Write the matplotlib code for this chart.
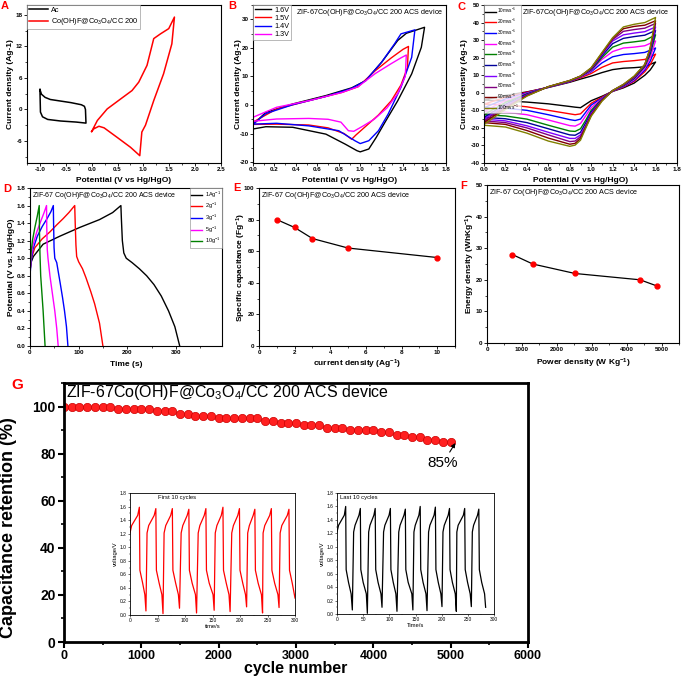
import matplotlib
matplotlib.use('Agg')
import matplotlib.pyplot as plt
from matplotlib.ticker import AutoMinorLocator

plt.rcParams['font.family'] = ['Liberation Sans', 'DejaVu Sans']
plt.rcParams['mathtext.fontset'] = 'custom'
plt.rcParams['mathtext.rm'] = 'Liberation Sans'
plt.rcParams['mathtext.it'] = 'Liberation Sans:italic'
plt.rcParams['mathtext.bf'] = 'Liberation Sans:bold'

# ---------------- data ----------------
# A: CV of Ac and Co(OH)F electrode
ac_x = [-1.0, -0.97, -0.9, -0.8, -0.6, -0.4, -0.2, -0.14, -0.12, -0.11, -0.3, -0.6, -0.85, -0.95, -0.99, -1.0]
ac_y = [3.8, 2.9, 2.3, 1.9, 1.6, 1.3, 0.9, 0.6, 0.0, -2.6, -2.4, -2.2, -1.9, -1.4, -0.5, 3.8]
cf_x = [0.0, 0.11, 0.30, 0.56, 0.78, 0.91, 1.07, 1.20, 1.33, 1.49, 1.60, 1.55, 1.39, 1.20, 1.04, 0.97, 0.93, 0.75, 0.49, 0.24, 0.14, 0.04, 0.0]
cf_y = [-4.2, -2.1, 0.1, 2.0, 3.6, 5.2, 8.4, 13.5, 14.4, 15.4, 17.6, 12.5, 6.8, 1.7, -3.0, -4.3, -8.8, -7.2, -5.3, -3.5, -3.2, -3.7, -4.2]

# B: device CV at different windows
b16_x = [0, 0.12, 0.37, 0.68, 0.92, 1.05, 1.20, 1.35, 1.43, 1.60, 1.57, 1.48, 1.35, 1.23, 1.15, 1.08, 1.00, 0.97, 0.86, 0.68, 0.37, 0.12, 0]
b16_y = [-6.8, -2.6, 0.35, 3.3, 6.0, 8.5, 15.0, 22.6, 25.1, 27.2, 20.2, 10.9, 1.5, -6.1, -11.3, -15.4, -16.4, -16.0, -13.7, -10.2, -7.8, -7.6, -8.4]
b15_x = [0, 0.22, 0.52, 0.83, 0.98, 1.14, 1.29, 1.40, 1.45, 1.44, 1.38, 1.29, 1.17, 1.05, 0.96, 0.92, 0.85, 0.7, 0.52, 0.22, 0]
b15_y = [-6.0, -1.4, 1.5, 4.4, 6.4, 12.0, 16.5, 19.5, 20.5, 13.0, 7.0, 1.5, -3.5, -7.5, -10.5, -12.0, -10.0, -8.0, -7.0, -6.7, -6.8]
b14_x = [0, 0.12, 0.37, 0.68, 0.92, 1.05, 1.20, 1.32, 1.38, 1.51, 1.48, 1.38, 1.26, 1.17, 1.08, 1.00, 0.95, 0.80, 0.52, 0.22, 0]
b14_y = [-6.7, -3.0, 0.1, 3.0, 5.8, 8.5, 15.0, 21.4, 24.9, 26.3, 16.7, 6.2, -3.2, -9.0, -12.5, -13.5, -12.5, -9.0, -7.3, -6.4, -6.7]
b13_x = [0, 0.22, 0.52, 0.83, 0.98, 1.14, 1.29, 1.38, 1.43, 1.42, 1.35, 1.25, 1.13, 1.02, 0.94, 0.89, 0.82, 0.7, 0.52, 0.22, 0]
b13_y = [-4.3, -0.8, 1.5, 4.4, 6.4, 11.0, 14.5, 16.5, 17.5, 10.0, 4.0, -1.0, -5.0, -7.5, -9.2, -9.0, -6.0, -5.0, -4.7, -4.9, -5.7]

# C: device CV at different scan rates
c_rates = ['10', '20', '30', '40', '50', '60', '70', '80', '90', '100']
c_colors = ['black', '#ff0000', '#0000ff', '#ff00ff', '#008000', '#000099', '#8000ff', '#800080', '#800000', '#808000']
c_up_x = [0, 0.2, 0.4, 0.6, 0.8, 0.9, 1.0, 1.1, 1.2, 1.3, 1.4, 1.5, 1.6]
c_ret_x = [1.6, 1.55, 1.5, 1.4, 1.3, 1.2, 1.1, 1.0, 0.95, 0.9, 0.85, 0.8, 0.6, 0.4, 0.2, 0.0]
c_up = [
    [-4.0, -1.5, 0.5, 3.0, 6.0, 7.8, 9.5, 11.5, 13.2, 14.0, 14.3, 14.8, 17.5],
    [-6.5, -2.5, 0.3, 3.2, 6.3, 8.5, 11.0, 14.5, 17.0, 17.8, 18.3, 19.0, 22.0],
    [-8.5, -3.5, 0.0, 3.2, 6.4, 9.0, 12.0, 17.0, 20.5, 21.8, 22.3, 23.0, 25.5],
    [-10.5, -4.5, -0.3, 3.2, 6.5, 9.0, 12.5, 19.0, 23.5, 25.5, 26.0, 26.8, 29.5],
    [-12.5, -5.5, -0.6, 3.3, 6.6, 9.2, 13.0, 20.0, 26.0, 28.3, 29.0, 29.8, 33.0],
    [-14.0, -6.5, -0.9, 3.3, 6.7, 9.3, 13.3, 21.0, 28.0, 31.0, 32.0, 32.8, 35.5],
    [-15.0, -7.3, -1.2, 3.4, 6.8, 9.4, 13.6, 21.8, 29.5, 33.0, 34.0, 34.8, 37.5],
    [-16.0, -8.0, -1.5, 3.4, 6.9, 9.4, 13.9, 22.3, 30.3, 35.0, 36.0, 36.8, 39.5],
    [-17.0, -8.8, -1.7, 3.5, 7.0, 9.5, 14.1, 22.6, 31.0, 36.5, 37.8, 38.5, 41.0],
    [-18.0, -9.5, -1.9, 3.5, 7.0, 9.5, 14.3, 22.9, 31.4, 37.5, 39.0, 40.0, 42.9],
]
c_ret = [
    [17.5, 13.0, 10.0, 5.5, 2.8, 0.8, -2.0, -4.5, -6.5, -8.5, -8.2, -7.8, -6.3, -5.3, -4.6, -4.2],
    [22.0, 16.0, 12.0, 6.5, 3.2, 0.9, -2.5, -6.0, -9.0, -12.0, -12.5, -12.0, -10.0, -8.0, -6.8, -6.5],
    [25.5, 18.0, 13.0, 7.0, 3.5, 1.0, -3.0, -7.0, -11.0, -15.0, -15.8, -15.3, -12.5, -10.0, -8.8, -8.5],
    [29.5, 20.0, 14.0, 7.5, 3.8, 1.0, -3.3, -8.5, -13.0, -17.5, -19.0, -18.7, -15.5, -12.5, -11.0, -10.5],
    [33.0, 22.0, 15.0, 8.0, 4.0, 1.1, -3.6, -10.0, -15.5, -20.5, -22.0, -21.8, -18.5, -15.0, -13.2, -12.5],
    [35.5, 23.0, 15.5, 8.4, 4.2, 1.1, -3.9, -11.0, -17.0, -22.5, -24.2, -24.0, -20.5, -17.0, -14.8, -14.0],
    [37.5, 24.0, 16.0, 8.7, 4.4, 1.2, -4.1, -11.8, -18.5, -24.0, -26.0, -26.0, -22.5, -18.8, -16.0, -15.0],
    [39.5, 24.8, 16.0, 9.0, 4.6, 1.2, -4.3, -12.4, -19.0, -25.0, -27.5, -27.8, -24.0, -20.0, -17.0, -16.0],
    [41.0, 25.3, 16.1, 9.3, 4.7, 1.3, -4.5, -12.9, -19.5, -26.0, -28.8, -29.3, -25.8, -21.5, -18.0, -17.0],
    [42.9, 25.7, 16.2, 9.5, 4.8, 1.3, -4.8, -13.3, -20.0, -27.0, -29.8, -30.5, -27.5, -23.0, -19.5, -18.5],
]

# D: GCD curves
d1_t = [0, 2, 7, 27, 61, 102, 143, 170, 187, 188, 190, 193, 198, 210, 225, 240, 255, 270, 285, 298, 308]
d1_v = [0.85, 0.95, 1.02, 1.16, 1.25, 1.35, 1.44, 1.52, 1.60, 1.45, 1.20, 1.06, 1.00, 0.95, 0.88, 0.80, 0.70, 0.57, 0.40, 0.22, 0.0]
d2_t = [0, 3, 10, 25, 41, 55, 68, 80, 92, 93, 94.5, 96, 100, 108, 115, 125, 133, 143, 150]
d2_v = [0.85, 1.0, 1.12, 1.22, 1.30, 1.38, 1.45, 1.52, 1.60, 1.40, 1.15, 1.02, 0.96, 0.88, 0.78, 0.62, 0.48, 0.26, 0.0]
d3_t = [0, 2, 6, 15, 25, 35, 43, 48, 48.5, 49.5, 51, 55, 58, 62, 67, 71, 75, 78]
d3_v = [0.8, 0.95, 1.10, 1.25, 1.36, 1.45, 1.53, 1.60, 1.40, 1.12, 1.00, 0.95, 0.85, 0.72, 0.55, 0.40, 0.22, 0.0]
d5_t = [0, 2, 6, 14, 22, 29, 34, 34.5, 35.5, 37, 39, 41, 46, 51, 55, 58]
d5_v = [0.85, 1.0, 1.15, 1.30, 1.42, 1.52, 1.60, 1.35, 1.10, 1.00, 0.90, 0.80, 0.60, 0.40, 0.20, 0.0]
d10_t = [0, 2, 5, 10, 15, 19, 19.5, 20.5, 22, 24.5, 27, 29, 31]
d10_v = [0.85, 1.05, 1.20, 1.35, 1.48, 1.60, 1.30, 1.05, 0.80, 0.60, 0.40, 0.20, 0.0]

# E: rate capability
e_current = [1, 2, 3, 5, 10]
e_cap = [80, 75, 68, 62, 56]

# F: Ragone plot
f_power = [725, 1310, 2520, 4384, 4880]
f_energy = [28, 25, 22, 20, 18]

# G: cycling
g_cycles = list(range(0, 5001, 100))
g_retention = [100, 100, 100, 100, 100, 100, 100, 99, 99, 99, 99, 99, 98, 98, 98, 97, 97,
               96, 96, 96, 95, 95, 95, 95, 95, 95, 94, 94, 93, 93, 93, 92, 92, 92, 91, 91,
               91, 90, 90, 90, 90, 89, 89, 88, 88, 87, 87, 86, 86, 85, 85]
ins1_t = [0, 3, 14, 17, 18, 23, 27, 29,
          31, 34, 44, 47, 48, 53, 58, 60,
          62, 65, 74, 77, 78, 83, 88, 90,
          93, 96, 104, 107, 108, 113, 119, 121,
          124, 127, 135, 138, 139, 144, 151, 153,
          155, 158, 166, 169, 170, 175, 180, 182,
          185, 188, 196, 199, 200, 205, 210, 212,
          214, 217, 224, 227, 228, 233, 239, 241,
          242, 245, 254, 257, 258, 263, 269, 271,
          273, 276, 286, 289, 290, 295, 300]
ins1_v = [1.21, 1.32, 1.47, 1.59, 0.66, 0.47, 0.30, 0.06,
          1.21, 1.32, 1.47, 1.57, 0.66, 0.47, 0.30, 0.02,
          1.21, 1.32, 1.47, 1.57, 0.66, 0.47, 0.30, 0.10,
          1.21, 1.32, 1.47, 1.56, 0.66, 0.47, 0.30, 0.03,
          1.21, 1.32, 1.47, 1.57, 0.66, 0.47, 0.30, 0.07,
          1.21, 1.32, 1.47, 1.59, 0.66, 0.47, 0.30, 0.05,
          1.21, 1.32, 1.47, 1.57, 0.66, 0.47, 0.30, 0.12,
          1.21, 1.32, 1.47, 1.56, 0.66, 0.47, 0.30, 0.03,
          1.21, 1.32, 1.47, 1.57, 0.66, 0.47, 0.30, 0.11,
          1.21, 1.32, 1.47, 1.56, 0.66, 0.47, 0.25]
ins2_t = [0, 3, 14, 16.6, 17.5, 22, 27, 29.3,
          31.8, 34.5, 42, 44.6, 45.5, 50, 56, 58,
          60.5, 63, 70.5, 73, 74, 78.5, 84, 86,
          89, 91.5, 99.5, 102, 103, 107.5, 112.5, 114.6,
          118, 120.5, 128, 130.6, 131.5, 136, 143, 145,
          147, 149.5, 156.5, 159, 160, 164.5, 170, 172,
          175, 177.5, 185.5, 188, 189, 193.5, 198.5, 200.6,
          202.5, 205, 212.5, 215, 216, 220.5, 226, 228,
          229, 231.5, 241.5, 244, 245, 249.5, 254.5, 256.7,
          258.6, 261, 268.5, 271, 272, 276.5, 282, 284]
ins2_v = [1.22, 1.32, 1.47, 1.60, 0.66, 0.47, 0.30, 0.06,
          1.22, 1.32, 1.47, 1.57, 0.66, 0.47, 0.30, 0.01,
          1.22, 1.32, 1.47, 1.57, 0.66, 0.47, 0.30, 0.10,
          1.22, 1.32, 1.47, 1.57, 0.66, 0.47, 0.30, 0.04,
          1.22, 1.32, 1.47, 1.56, 0.66, 0.47, 0.30, 0.06,
          1.22, 1.32, 1.47, 1.60, 0.66, 0.47, 0.30, 0.05,
          1.22, 1.32, 1.47, 1.59, 0.66, 0.47, 0.30, 0.11,
          1.22, 1.32, 1.47, 1.57, 0.66, 0.47, 0.30, 0.04,
          1.22, 1.32, 1.47, 1.57, 0.66, 0.47, 0.30, 0.11,
          1.22, 1.32, 1.47, 1.56, 0.66, 0.47, 0.30, 0.10]

DEV = 'ZIF-67Co(OH)F@Co$_3$O$_4$/CC 200 ACS device'
DEV2 = 'ZIF-67 Co(OH)F@Co$_3$O$_4$/CC 200 ACS device'

# ---------------- layout helpers ----------------
W, H = 685, 678
fig = plt.figure(figsize=(6.85, 6.78), dpi=100)


def add_box(x0, y0, x1, y1):
    return fig.add_axes([x0 / W, 1 - y1 / H, (x1 - x0) / W, (y1 - y0) / H])


def small_style(ax, xt, yt, xnd, ynd, xlab, ylab, box, xlab_y, ylab_x, size=4.5, lsize=6):
    # xlab_y / ylab_x are pixel centres of the axis labels
    x0, y0, x1, y1 = box
    for s in ax.spines.values():
        s.set_linewidth(0.8)
    ax.set_xticks(xt)
    ax.set_xticklabels([f'{v:.{xnd}f}' for v in xt], fontsize=size, fontweight='bold')
    ax.set_yticks(yt)
    ax.set_yticklabels([f'{v:.{ynd}f}' for v in yt], fontsize=size, fontweight='bold')
    ax.xaxis.set_minor_locator(AutoMinorLocator(2))
    ax.yaxis.set_minor_locator(AutoMinorLocator(2))
    ax.tick_params(which='major', direction='out', length=2.2, width=0.6, pad=1)
    ax.tick_params(which='minor', direction='out', length=1.2, width=0.5)
    ax.set_xlabel(xlab, fontsize=lsize, fontweight='bold', va='center')
    ax.set_ylabel(ylab, fontsize=lsize, fontweight='bold', va='center')
    ax.xaxis.set_label_coords(0.5, (y1 - xlab_y) / (y1 - y0))
    ax.yaxis.set_label_coords((ylab_x - x0) / (x1 - x0), 0.5)


def small_legend(ax, loc, size, hl, ls):
    leg = ax.legend(loc=loc, fontsize=size, frameon=True, fancybox=False, borderaxespad=0,
                    handlelength=hl, handletextpad=0.4, labelspacing=ls, borderpad=0.25)
    leg.get_frame().set_edgecolor('#999999')
    leg.get_frame().set_linewidth(0.6)


def letter(x, y, s, size=8):
    fig.text(x / W, 1 - y / H, s, color='red', fontweight='bold', fontsize=size,
             ha='left', va='center')


# ---------------- A ----------------
boxA = (27, 5, 221, 163)
ax = add_box(*boxA)
ax.plot(ac_x, ac_y, color='black', lw=1.1, label='Ac')
ax.plot(cf_x, cf_y, color='red', lw=1.1, label='Co(OH)F@Co$_3$O$_4$/CC 200')
ax.set_xlim(-1.25, 2.5)
ax.set_ylim(-10.2, 19.9)
small_style(ax, [-1.0, -0.5, 0.0, 0.5, 1.0, 1.5, 2.0, 2.5], [-6, 0, 6, 12, 18], 1, 0,
            'Potential (V vs Hg/HgO)', 'Current density (Ag-1)', boxA, 181, 11)
small_legend(ax, 'upper left', 5.3, 2.6, 0.3)
letter(1, 6, 'A')

# ---------------- B ----------------
boxB = (253, 5, 446, 163)
ax = add_box(*boxB)
ax.plot(b16_x, b16_y, color='black', lw=1.0, label='1.6V')
ax.plot(b15_x, b15_y, color='red', lw=1.0, label='1.5V')
ax.plot(b14_x, b14_y, color='blue', lw=1.0, label='1.4V')
ax.plot(b13_x, b13_y, color='#ff00ff', lw=1.0, label='1.3V')
ax.set_xlim(0, 1.8)
ax.set_ylim(-20.3, 35)
small_style(ax, [0.0, 0.2, 0.4, 0.6, 0.8, 1.0, 1.2, 1.4, 1.6, 1.8], [-20, -10, 0, 10, 20, 30], 1, 0,
            'Potential (V vs Hg/HgO)', 'Current density (Ag-1)', boxB, 180, 238)
small_legend(ax, 'upper left', 5.2, 2.3, 0.15)
ax.text(0.225, 0.985, DEV, transform=ax.transAxes, fontsize=5.2, va='top', ha='left')
letter(228, 6, 'B')

# ---------------- C ----------------
boxC = (484, 5, 677, 163)
ax = add_box(*boxC)
for rate, col, up, ret in zip(c_rates, c_colors, c_up, c_ret):
    ax.plot(c_up_x + c_ret_x, up + ret, color=col, lw=1.0, label=rate + 'mvs$^{-1}$')
ax.set_xlim(0, 1.8)
ax.set_ylim(-40, 50)
small_style(ax, [0.0, 0.2, 0.4, 0.6, 0.8, 1.0, 1.2, 1.4, 1.6, 1.8], [-40, -30, -20, -10, 0, 10, 20, 30, 40, 50], 1, 0,
            'Potential (V vs Hg/HgO)', 'Current density (Ag-1)', boxC, 180, 464)
small_legend(ax, 'upper left', 3.4, 2.2, 0.3)
ax.text(0.195, 0.985, DEV, transform=ax.transAxes, fontsize=5.2, va='top', ha='left')
letter(457, 7, 'C')

# ---------------- D ----------------
boxD = (30, 188, 222, 346)
ax = add_box(*boxD)
ax.plot(d1_t, d1_v, color='black', lw=1.0, label='1Ag$^{-1}$')
ax.plot(d2_t, d2_v, color='red', lw=1.0, label='2g$^{-1}$')
ax.plot(d3_t, d3_v, color='blue', lw=1.0, label='3g$^{-1}$')
ax.plot(d5_t, d5_v, color='#ff00ff', lw=1.0, label='5g$^{-1}$')
ax.plot(d10_t, d10_v, color='#008000', lw=1.0, label='10g$^{-1}$')
ax.set_xlim(0, 395)
ax.set_ylim(0, 1.8)
small_style(ax, [0, 100, 200, 300], [0.0, 0.2, 0.4, 0.6, 0.8, 1.0, 1.2, 1.4, 1.6, 1.8], 0, 1,
            'Time (s)', 'Potential (V vs. Hg/HgO)', boxD, 364, 12)
small_legend(ax, 'upper right', 4.0, 2.0, 0.25)
ax.text(0.01, 0.985, DEV2, transform=ax.transAxes, fontsize=5.0, va='top', ha='left')
letter(3, 189, 'D')

# ---------------- E ----------------
boxE = (259, 188, 455, 346)
ax = add_box(*boxE)
ax.plot(e_current, e_cap, color='black', lw=0.9, marker='o', markersize=3.5,
        markerfacecolor='red', markeredgecolor='red')
ax.set_xlim(0, 11)
ax.set_ylim(0, 100)
small_style(ax, [0, 2, 4, 6, 8, 10], [0, 20, 40, 60, 80, 100], 0, 0,
            r'current density (Ag$^{\mathbf{-1}}$)', r'Specific capacitance (Fg$^{\mathbf{-1}}$)',
            boxE, 364, 241)
ax.text(0.01, 0.985, DEV2, transform=ax.transAxes, fontsize=5.2, va='top', ha='left')
letter(233, 188, 'E')

# ---------------- F ----------------
boxF = (487, 185, 679, 343)
ax = add_box(*boxF)
ax.plot(f_power, f_energy, color='black', lw=0.9, marker='o', markersize=3.5,
        markerfacecolor='red', markeredgecolor='red')
ax.set_xlim(0, 5500)
ax.set_ylim(0, 50)
small_style(ax, [0, 1000, 2000, 3000, 4000, 5000], [0, 10, 20, 30, 40, 50], 0, 0,
            r'Power density (W Kg$^{\mathbf{-1}}$)', r'Energy density (WhKg$^{\mathbf{-1}}$)',
            boxF, 363, 470)
ax.text(0.01, 0.985, DEV2, transform=ax.transAxes, fontsize=5.2, va='top', ha='left')
letter(460, 186, 'F')

# ---------------- G ----------------
boxG = (64, 383, 528, 642)
ax = add_box(*boxG)
ax.plot(g_cycles, g_retention, linestyle='none', marker='o', markersize=6,
        markerfacecolor='#ff2020', markeredgecolor='#cc0000', markeredgewidth=0.5)
ax.set_xlim(0, 6000)
ax.set_ylim(0, 110)
for s in ax.spines.values():
    s.set_linewidth(2.0)
gx = [0, 1000, 2000, 3000, 4000, 5000, 6000]
gy = [0, 20, 40, 60, 80, 100]
ax.set_xticks(gx)
ax.set_xticklabels([str(v) for v in gx], fontsize=9, fontweight='bold')
ax.set_yticks(gy)
ax.set_yticklabels([str(v) for v in gy], fontsize=10, fontweight='bold')
ax.xaxis.set_minor_locator(AutoMinorLocator(2))
ax.yaxis.set_minor_locator(AutoMinorLocator(2))
ax.tick_params(which='major', direction='out', length=4, width=1.5, pad=2)
ax.tick_params(which='minor', direction='out', length=2.5, width=1.2)
ax.set_xlabel('cycle number', fontsize=11.5, fontweight='bold', va='center')
ax.xaxis.set_label_coords(0.5, (642 - 669) / (642 - 383))
ax.text(0.004, 0.965, 'ZIF-67Co(OH)F@Co$_3$O$_4$/CC 200 ACS device', transform=ax.transAxes,
        fontsize=11.5, va='center', ha='left')
ax.annotate('85%', xy=(5060, 84.5), xytext=(4900, 76), fontsize=11, ha='center', va='center',
            arrowprops=dict(arrowstyle='-|>', color='black', lw=0.8, mutation_scale=6,
                            shrinkA=1, shrinkB=0))
fig.text(9 / W, 1 - 528 / H, 'Capacitance retention (%)', rotation=90, fontsize=13,
         fontweight='bold', ha='center', va='center')
letter(11, 385, 'G', size=11)


def inset_style(ax, xlab, label_text, tx):
    for s in ax.spines.values():
        s.set_linewidth(0.6)
    ax.set_xlim(0, 300)
    ax.set_ylim(0, 1.8)
    xt = [0, 50, 100, 150, 200, 250, 300]
    yt = [0.0, 0.2, 0.4, 0.6, 0.8, 1.0, 1.2, 1.4, 1.6, 1.8]
    ax.set_xticks(xt)
    ax.set_xticklabels([str(v) for v in xt], fontsize=3.5)
    ax.set_yticks(yt)
    ax.set_yticklabels([f'{v:.1f}' for v in yt], fontsize=3.5)
    ax.xaxis.set_minor_locator(AutoMinorLocator(2))
    ax.yaxis.set_minor_locator(AutoMinorLocator(2))
    ax.tick_params(which='major', direction='out', length=1.5, width=0.4, pad=1)
    ax.tick_params(which='minor', direction='out', length=0.8, width=0.3)
    ax.set_xlabel(xlab, fontsize=4.2, labelpad=0.5)
    ax.set_ylabel('voltage/V', fontsize=4.2, labelpad=1)
    ax.text(tx, 0.985, label_text, transform=ax.transAxes, fontsize=4.2, va='top', ha='left')


axi = add_box(130, 493, 295, 615)
axi.plot(ins1_t, ins1_v, color='red', lw=0.9)
inset_style(axi, 'time/s', 'First 10 cycles', 0.17)

axi = add_box(337, 493, 494, 614)
axi.plot(ins2_t, ins2_v, color='black', lw=0.9)
inset_style(axi, 'Time/s', 'Last 10 cycles', 0.02)

fig.savefig('out.png', dpi=100)
